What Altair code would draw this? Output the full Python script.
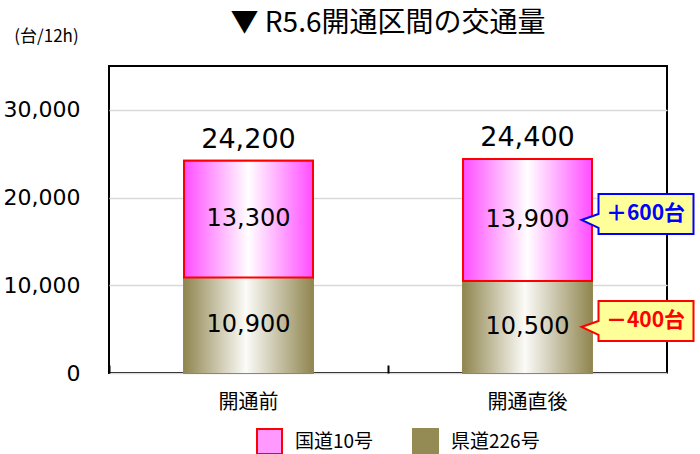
import altair as alt
import pandas as pd

# Traffic volume on the section opened in R5.6 (vehicles / 12h)
periods = ["開通前", "開通直後"]
routes = ["国道10号", "県道226号"]
kokudo10 = [13300, 13900]
kendo226 = [10900, 10500]
totals = [24200, 24400]
change_labels = ["＋600台", "－400台"]      # change after opening: 国道10号, 県道226号
change_colors = ["#0000FF", "#FF0000"]

NUM_FONT = "DejaVu Sans"
JP_FONT = "Noto Sans CJK JP"

# stacked segments: 県道226号 at the bottom, 国道10号 on top
rows = []
for i, p in enumerate(periods):
    rows.append(dict(period=p, route=routes[1], start=0, end=kendo226[i], value=kendo226[i]))
    rows.append(dict(period=p, route=routes[0], start=kendo226[i],
                     end=kendo226[i] + kokudo10[i], value=kokudo10[i]))
seg = pd.DataFrame(rows)
seg["mid"] = (seg["start"] + seg["end"]) / 2

tot = pd.DataFrame({"period": periods, "total": totals})

after = seg[seg["period"] == periods[1]].set_index("route")
callouts = pd.DataFrame({
    "period": [periods[1], periods[1]],
    "route": routes,
    "mid": [after.loc[routes[0], "mid"], after.loc[routes[1], "mid"]],
    "label": change_labels,
})

x_enc = alt.X(
    "period:N", sort=periods,
    scale=alt.Scale(domain=periods, paddingInner=0, paddingOuter=0),
    axis=alt.Axis(title=None, labelAngle=0, labelFont=JP_FONT, labelFontSize=20,
                  labelColor="black", labelPadding=19, domain=False, grid=False,
                  ticks=True, tickSize=8, tickWidth=2, tickColor="black",
                  bandPosition=0, offset=-8),
)
y_axis = alt.Axis(
    title="(台/12h)", titleAngle=0, titleX=-63, titleY=-30, titleAlign="center",
    titleBaseline="middle", titleFont=JP_FONT, titleFontSize=17,
    titleFontWeight="normal", titleColor="black",
    values=[0, 10000, 20000, 30000], labelExpr="format(datum.value, ',')",
    labelFont=NUM_FONT, labelFontSize=22, labelColor="black", labelPadding=29,
    ticks=False, tickSize=0, domain=False, grid=True, gridColor="#D9D9D9", gridWidth=1.5,
)
y_scale = alt.Scale(domain=[0, 35000], nice=False)

def y(field):
    return alt.Y(f"{field}:Q", scale=y_scale, axis=y_axis)

BAR_W = 129

legend = alt.Legend(
    title=None, orient="none", legendX=147, legendY=362, direction="horizontal",
    symbolType="square", symbolSize=625, symbolStrokeWidth=2,
    labelFont=JP_FONT, labelFontSize=19, labelColor="black",
    labelOffset=12, columnPadding=35,
)
base = alt.Chart(seg).mark_bar(size=BAR_W, strokeWidth=2).encode(
    x=x_enc, y=y("start"), y2="end",
    fill=alt.Fill("route:N", scale=alt.Scale(domain=routes, range=["#FF99FF", "#948A54"]),
                  legend=legend),
    stroke=alt.Stroke("route:N", scale=alt.Scale(domain=routes, range=["#FF0000", "#948A54"]),
                      legend=legend),
)

pink_grad = alt.LinearGradient(
    gradient="linear", x1=0, x2=1, y1=0, y2=0,
    stops=[alt.GradientStop(color="#FF4DFF", offset=0),
           alt.GradientStop(color="#FFFFFF", offset=0.5),
           alt.GradientStop(color="#FF4DFF", offset=1)],
)
olive_grad = alt.LinearGradient(
    gradient="linear", x1=0, x2=1, y1=0, y2=0,
    stops=[alt.GradientStop(color="#908650", offset=0),
           alt.GradientStop(color="#FBFBF8", offset=0.48),
           alt.GradientStop(color="#908650", offset=1)],
)

olive_bars = alt.Chart(seg).transform_filter(
    alt.datum.route == routes[1]
).mark_bar(size=BAR_W, fill=olive_grad, strokeWidth=0).encode(
    x=x_enc, y=y("start"), y2="end")

pink_bars = alt.Chart(seg).transform_filter(
    alt.datum.route == routes[0]
).mark_bar(size=BAR_W, fill=pink_grad, stroke="#FF0000", strokeWidth=2).encode(
    x=x_enc, y=y("start"), y2="end")

seg_labels = alt.Chart(seg).mark_text(
    font=NUM_FONT, fontSize=24, color="black", baseline="middle", align="center"
).encode(x=x_enc, y=y("mid"), text=alt.Text("value:Q", format=","))

tot_labels = alt.Chart(tot).mark_text(
    font=NUM_FONT, fontSize=27, color="black", baseline="alphabetic", align="center", dy=-13
).encode(x=x_enc, y=y("total"), text=alt.Text("total:Q", format=","))

# speech-bubble callouts (path origin = pointer tip, 1 unit = 50 px)
bubble = "M0,0 L0.34,-0.12 L0.34,-0.52 L2.24,-0.52 L2.24,0.28 L0.34,0.28 L0.34,0.16 Z"
callout_layers = []
for i, r in enumerate(routes):
    d = callouts[callouts["route"] == r]
    callout_layers.append(
        alt.Chart(d).mark_point(
            shape=bubble, size=10000, filled=True, fill="#FFFF99", opacity=1,
            stroke=change_colors[i], strokeWidth=2, xOffset=54,
        ).encode(x=x_enc, y=y("mid"))
    )
    callout_layers.append(
        alt.Chart(d).mark_text(
            font=JP_FONT, fontSize=21, fontWeight="bold", color=change_colors[i],
            align="center", baseline="middle", dx=118, dy=-6,
        ).encode(x=x_enc, y=y("mid"), text="label:N")
    )

chart = alt.layer(
    base, olive_bars, pink_bars, seg_labels, tot_labels, *callout_layers
).properties(
    width=558, height=307,
    title=alt.TitleParams("▼ R5.6開通区間の交通量", font=JP_FONT, fontSize=28,
                          fontWeight="normal", color="black", anchor="middle",
                          frame="group", baseline="alphabetic", offset=-33),
    autosize=alt.AutoSizeParams(type="none"),
    padding={"left": 109, "top": 66, "right": 33, "bottom": 81},
    background="white",
).configure_view(
    stroke="black", strokeWidth=2
)

chart.save("out.html", embed_options={"renderer": "svg", "actions": False})
